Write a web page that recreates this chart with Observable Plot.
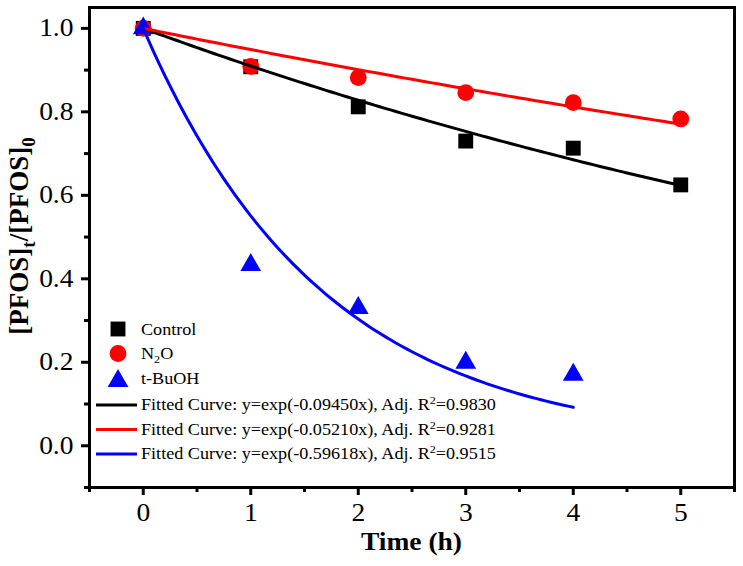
<!DOCTYPE html>
<html><head><meta charset="utf-8">
<script src="https://cdn.jsdelivr.net/npm/d3@7"></script>
<script src="https://cdn.jsdelivr.net/npm/@observablehq/plot@0.6"></script>
<style>
body{margin:0;background:#fff;}
#chart svg{display:block;}
#chart svg text{font-family:'Liberation Serif','Times New Roman',serif !important;}
</style></head><body><div id="chart"></div>
<script>
// ---- data ----
const times = [0, 1, 2, 3, 4, 5];
const controlValues = [1.0, 0.908, 0.812, 0.730, 0.713, 0.625];
const n2oValues = [1.0, 0.909, 0.882, 0.846, 0.822, 0.783];
const tbuohTimes = [0, 1, 2, 3, 4];
const tbuohValues = [1.0, 0.433, 0.33, 0.199, 0.170];
const seriesNames = ["Control", "N2O", "t-BuOH"];
const fitK = [0.09450, 0.05210, 0.59618];
const fitKLabels = ["-0.09450", "-0.05210", "-0.59618"];
const fitR2 = ["0.9830", "0.9281", "0.9515"];
const fitEnd = [5, 5, 4];
const xTicks = [0, 1, 2, 3, 4, 5];
const xMinorTicks = [-0.5, 0.5, 1.5, 2.5, 3.5, 4.5, 5.5];
const yTicks = [0, 0.2, 0.4, 0.6, 0.8, 1.0];
const yMinorTicks = [-0.1, 0.1, 0.3, 0.5, 0.7, 0.9];
const colors = ["#000000", "#ff0000", "#0000ff"];
const symbols = ["square", "circle", "triangle"];

const control = times.map((t, i) => ({t, v: controlValues[i]}));
const n2o = times.map((t, i) => ({t, v: n2oValues[i]}));
const tbuoh = tbuohTimes.map((t, i) => ({t, v: tbuohValues[i]}));
const scatter = [control, n2o, tbuoh];
// fitted curves from the equations given in the legend
const fits = fitK.map((k, s) => d3.range(0, fitEnd[s] + 1e-9, 0.05).map(t => ({t, v: Math.exp(-k * t)})));

const FONT = "'Liberation Serif', 'Times New Roman', serif";
const SX = 1.1;
const rOf = {square: 8.4, circle: 8.4, triangle: 7.7};

const plot = Plot.plot({
  width: 743, height: 566,
  marginTop: 7, marginBottom: 79, marginLeft: 89, marginRight: 9,
  style: {fontFamily: FONT, background: "#fff", color: "#000", overflow: "visible"},
  x: {domain: [-0.5, 5.5]},
  y: {domain: [-0.1, 1.05]},
  marks: [
    Plot.axisX({ticks: xTicks, tickSize: 8, tickPadding: 8, strokeWidth: 3, fontSize: 25, fontFamily: FONT, label: null, tickFormat: d3.format("d")}),
    Plot.axisX({ticks: xMinorTicks, tickSize: 5, strokeWidth: 3, fill: "none", label: null}),
    Plot.axisY({ticks: yTicks, tickSize: 8, tickPadding: 8, strokeWidth: 3, fontSize: 25, fontFamily: FONT, label: null, tickFormat: d3.format(".1f")}),
    Plot.axisY({ticks: yMinorTicks, tickSize: 5, strokeWidth: 3, fill: "none", label: null}),
    ...scatter.map((d, s) => Plot.dot(d, {x: "t", y: "v", symbol: symbols[s], r: rOf[symbols[s]], fill: colors[s], stroke: "none"})),
    ...fits.map((d, s) => Plot.line(d, {x: "t", y: "v", stroke: colors[s], strokeWidth: 3})),
    Plot.frame({strokeWidth: 3})
  ]
});

// stretch text horizontally like the reference
function stretch(el) {
  const x = +(el.getAttribute("x") || 0);
  const tr = el.getAttribute("transform") || "";
  el.setAttribute("transform", `${tr} translate(${x},0) scale(${SX},1) translate(${-x},0)`);
}
plot.querySelectorAll('g[aria-label="x-axis tick label"] text, g[aria-label="y-axis tick label"] text').forEach(el => {
  el.style.fontFamily = FONT;
  stretch(el);
});

const svg = d3.select(plot);

// axis titles
const xt = svg.append("text").attr("x", 411.5).attr("y", 550)
  .attr("text-anchor", "middle").attr("font-family", FONT).attr("font-weight", "bold").attr("font-size", 25)
  .text("Time (h)");
stretch(xt.node());

const yt = svg.append("text").attr("transform", "translate(28,236) rotate(-90)")
  .attr("text-anchor", "middle").attr("font-family", FONT).attr("font-weight", "bold").attr("font-size", 27);
yt.append("tspan").text("[PFOS]");
yt.append("tspan").attr("dy", 7).attr("font-size", 19).text("t");
yt.append("tspan").attr("dy", -7).text("/[PFOS]");
yt.append("tspan").attr("dy", 7).attr("font-size", 19).text("0");

// legend
const lg = svg.append("g").attr("font-family", FONT).attr("font-size", 16.5).attr("fill", "#000").attr("text-anchor", "start");
const symRowY = [329, 353.5, 378];
const d3sym = {square: d3.symbolSquare, circle: d3.symbolCircle, triangle: d3.symbolTriangle};
seriesNames.forEach((name, s) => {
  const sy = symRowY[s];
  const sym = symbols[s];
  lg.append("path").attr("transform", `translate(118,${sy + (sym === "triangle" ? 3 : 0)})`)
    .attr("d", d3.symbol(d3sym[sym], Math.PI * rOf[sym] * rOf[sym])())
    .attr("fill", colors[s]);
  const t = lg.append("text").attr("x", 141).attr("y", sy + 6).attr("text-anchor", "start");
  if (name === "N2O") {
    t.append("tspan").text("N");
    t.append("tspan").attr("dy", 4).attr("font-size", 11).text("2");
    t.append("tspan").attr("dy", -4).text("O");
  } else {
    t.text(name);
  }
  stretch(t.node());
});
const lineRowY = [405, 429.5, 454];
fitK.forEach((k, s) => {
  const ly = lineRowY[s];
  lg.append("line").attr("x1", 96).attr("x2", 137).attr("y1", ly).attr("y2", ly)
    .attr("stroke", colors[s]).attr("stroke-width", 3);
  const t = lg.append("text").attr("x", 141).attr("y", ly + 5.5).attr("text-anchor", "start");
  t.append("tspan").text(`Fitted Curve: y=exp(${fitKLabels[s]}x), Adj. R`);
  t.append("tspan").attr("dy", -6).attr("font-size", 11).text("2");
  t.append("tspan").attr("dy", 6).text(`=${fitR2[s]}`);
  stretch(t.node());
});

document.getElementById("chart").appendChild(plot);
</script>
</body></html>
